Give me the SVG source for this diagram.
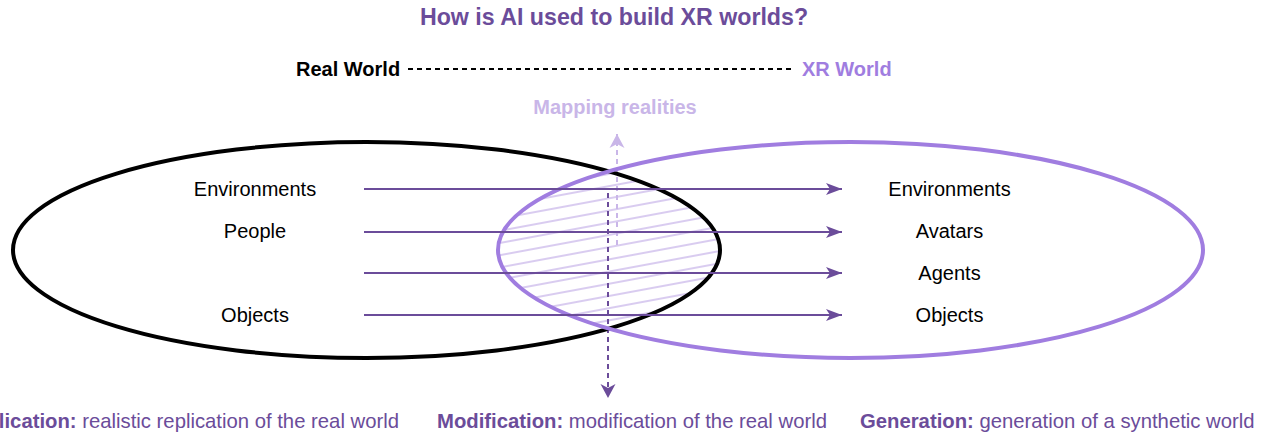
<svg xmlns="http://www.w3.org/2000/svg" width="1266" height="435" viewBox="0 0 1266 435">
  <style>
    text { font-family: "Liberation Sans", Arial, sans-serif; font-size: 20px; }
    .b { font-weight: bold; }
    .dp { fill: #6b4c9a; }
    .bottom { font-size: 20.3px; }
    .lbl { fill: #000; text-anchor: middle; }
    .arrow { stroke: #6b4c9a; stroke-width: 2; fill: none; }
  </style>
  <defs>
    <marker id="ah" markerUnits="userSpaceOnUse" markerWidth="18" markerHeight="14" refX="16" refY="7" orient="auto" viewBox="0 0 18 14">
      <path d="M0,1 L16,7 L0,13 L4,7 z" fill="#6b4c9a"/>
    </marker>
    <marker id="ahLight" markerUnits="userSpaceOnUse" markerWidth="16" markerHeight="16" refX="14" refY="8" orient="auto" viewBox="0 0 16 16">
      <path d="M0,0.5 L14,8 L0,15.5 L4,8 z" fill="#c9b6e8"/>
    </marker>
    <marker id="ahDark" markerUnits="userSpaceOnUse" markerWidth="16" markerHeight="16" refX="14" refY="8" orient="auto" viewBox="0 0 16 16">
      <path d="M0,0.5 L14,8 L0,15.5 L4,8 z" fill="#6b4c9a"/>
    </marker>
    <pattern id="hatch" patternUnits="userSpaceOnUse" width="40" height="12" patternTransform="rotate(-10.5)">
      <line x1="0" y1="6" x2="40" y2="6" stroke="#cdbbeb" stroke-width="1.6"/>
    </pattern>
    <clipPath id="clipReal">
      <ellipse cx="366.5" cy="250" rx="353.5" ry="108"/>
    </clipPath>
    <clipPath id="clipXR">
      <ellipse cx="850.5" cy="250" rx="352.5" ry="108"/>
    </clipPath>
  </defs>

  <g id="title">
    <text x="614" y="25" text-anchor="middle" class="b dp" style="font-size:23.2px">How is AI used to build XR worlds?</text>
  </g>

  <g id="header">
    <text x="296" y="76" class="b" fill="#000">Real World</text>
    <line x1="408" y1="69" x2="794" y2="69" stroke="#000" stroke-width="2" stroke-dasharray="5,4"/>
    <text x="802" y="76" class="b" fill="#a07de0">XR World</text>
  </g>

  <g id="mapping-label">
    <text x="615" y="114" text-anchor="middle" class="b" fill="#c9b6e8">Mapping realities</text>
  </g>

  <g id="intersection-hatch">
    <g clip-path="url(#clipReal)">
      <rect x="480" y="130" width="260" height="240" fill="url(#hatch)" clip-path="url(#clipXR)"/>
    </g>
  </g>

  <g id="connectors">
    <line x1="617" y1="245" x2="617" y2="134" stroke="#c9b6e8" stroke-width="2" stroke-dasharray="5,4" marker-end="url(#ahLight)"/>
    <line x1="608" y1="193" x2="608" y2="398" stroke="#6b4c9a" stroke-width="2" stroke-dasharray="5,4" marker-end="url(#ahDark)"/>
  </g>

  <g id="real-world">
    <ellipse cx="366.5" cy="250" rx="353.5" ry="108" fill="none" stroke="#000" stroke-width="4"/>
  </g>
  <g id="xr-world">
    <ellipse cx="850.5" cy="250" rx="352.5" ry="108" fill="none" stroke="#a07de0" stroke-width="4"/>
  </g>

  <g id="arrows">
    <line class="arrow" x1="364" y1="189" x2="842" y2="189" marker-end="url(#ah)"/>
    <line class="arrow" x1="364" y1="232" x2="842" y2="232" marker-end="url(#ah)"/>
    <line class="arrow" x1="364" y1="273" x2="842" y2="273" marker-end="url(#ah)"/>
    <line class="arrow" x1="364" y1="315" x2="842" y2="315" marker-end="url(#ah)"/>
  </g>

  <g id="real-items">
    <text class="lbl" x="255" y="196">Environments</text>
    <text class="lbl" x="255" y="238">People</text>
    <text class="lbl" x="255" y="322">Objects</text>
  </g>

  <g id="xr-items">
    <text class="lbl" x="949.5" y="196">Environments</text>
    <text class="lbl" x="949.5" y="238">Avatars</text>
    <text class="lbl" x="949.5" y="280">Agents</text>
    <text class="lbl" x="949.5" y="322">Objects</text>
  </g>

  <g id="replication">
    <text x="399" y="428" text-anchor="end" class="dp bottom"><tspan class="b">Replication:</tspan> realistic replication of the real world</text>
  </g>
  <g id="modification">
    <text x="437" y="428" class="dp bottom"><tspan class="b">Modification:</tspan> modification of the real world</text>
  </g>
  <g id="generation">
    <text x="860" y="428" class="dp bottom"><tspan class="b">Generation:</tspan> generation of a synthetic world</text>
  </g>
</svg>
